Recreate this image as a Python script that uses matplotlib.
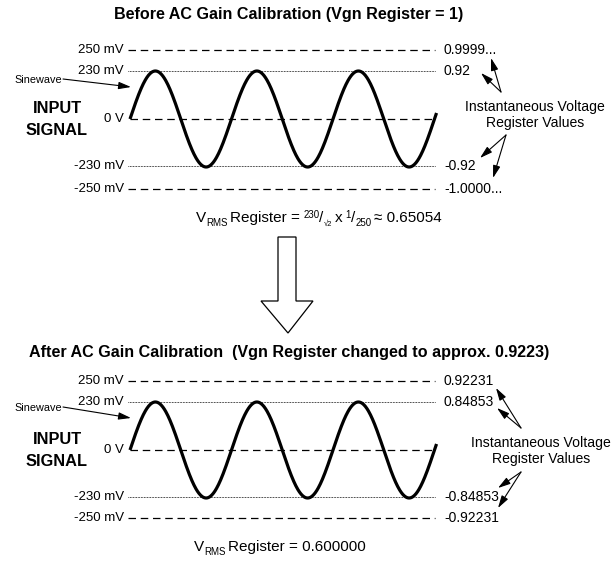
import numpy as np
import matplotlib.pyplot as plt
from matplotlib.patches import Polygon

plt.rcParams['font.family'] = ['Liberation Sans', 'DejaVu Sans']

# chart content
level_labels = ["250 mV", "230 mV", "0 V", "-230 mV", "-250 mV"]
level_styles = ["dash", "dot", "dash", "dot", "dash"]
before_values = ["0.9999...", "0.92", "", "-0.92", "-1.0000..."]
after_values = ["0.92231", "0.84853", "", "-0.84853", "-0.92231"]
sine_amplitude_mv = 230
sine_cycles = 3.02

titles = ["Before AC Gain Calibration (Vgn Register = 1)",
          "After AC Gain Calibration  (Vgn Register changed to approx. 0.9223)"]
# formula pieces: (text, role)  role: main / sub / sup
formula_before = [("V", "main"), ("RMS", "sub"), (" Register = ", "main"),
                  ("230", "sup"), ("/", "main"), ("\u221a2", "sub2"), (" x ", "main"),
                  ("1", "sup"), ("/", "main"), ("250", "sub"), (" \u2248 0.65054", "main")]
formula_after = [("V", "main"), ("RMS", "sub"), (" Register = 0.600000", "main")]

# layout (pixel coordinates of each panel)
panels = [
    dict(title_y=15, level_y=[50, 71, 119, 166, 189], values=before_values,
         sine_lbl_y=80, sine_tip=(131, 87), formula_xy=(319, 222),
         note_xy=(535, 115), up_from=(501, 92), up_tips=[(491, 58), (481, 73)],
         dn_from=(506, 135), dn_tips=[(480, 158), (493, 178)],
         formula=formula_before),
    dict(title_y=353, level_y=[381, 402, 450, 497, 518], values=after_values,
         sine_lbl_y=408, sine_tip=(131, 418), formula_xy=(280, 551),
         note_xy=(541, 451), up_from=(521, 428), up_tips=[(496, 388), (497, 408)],
         dn_from=(521, 472), dn_tips=[(498, 488), (498, 508)],
         formula=formula_after),
]

role_style = {"main": (11.0, 0), "sub": (7.0, 4), "sub2": (5.5, 4), "sup": (7.0, -4)}

fig = plt.figure(figsize=(6.16, 5.68), dpi=100)
ax = fig.add_axes([0, 0, 1, 1])
ax.set_xlim(0, 616)
ax.set_ylim(568, 0)
ax.axis('off')
renderer = fig.canvas.get_renderer()


def rich_text(xc, y, pieces):
    arts, widths = [], []
    for s, role in pieces:
        size, dy = role_style[role]
        t = ax.text(0, y + dy, s.strip(), fontsize=size, va='baseline', ha='left')
        w = t.get_window_extent(renderer).width
        sp = 3 if s != s.lstrip() else 0
        ep = 3 if s != s.rstrip() else 0
        arts.append((t, sp))
        widths.append(sp + w + ep)
    x = xc - sum(widths) / 2
    for (t, sp), w in zip(arts, widths):
        t.set_x(x + sp)
        x += w


arrow_kw = dict(arrowstyle='-|>,head_length=0.75,head_width=0.22',
                color='black', lw=0.8, shrinkA=0, shrinkB=0)

x_left, x_right, x_sine = 128, 435, 130
period = 101.5

for p, title in zip(panels, titles):
    ax.text(289, p['title_y'], title, ha='center', va='center',
            fontsize=11.6, fontweight='bold')
    ys = p['level_y']
    for lbl, style, y, val in zip(level_labels, level_styles, ys, p['values']):
        ax.text(x_left - 4, y, lbl, ha='right', va='center', fontsize=9.5)
        x0 = x_sine if lbl == "0 V" else x_left
        if style == "dash":
            ax.plot([x0, x_right], [y, y], color='black', lw=0.9,
                    dashes=(6.0, 3.8))
        else:
            ax.plot([x0, x_right], [y, y], color='black', lw=0.7,
                    dashes=(0.7, 0.9))
        if val:
            ax.text(x_right + 9, y, val, ha='left', va='center', fontsize=10)

    # sinewave
    y_zero, y_peak = ys[2], ys[1]
    scale = (y_zero - y_peak) / sine_amplitude_mv
    x = np.linspace(x_sine, x_sine + sine_cycles * period, 600)
    v = sine_amplitude_mv * np.sin(2 * np.pi * (x - x_sine) / period)
    ax.plot(x, y_zero - v * scale, color='black', lw=2.3, solid_capstyle='butt')

    ax.text(14, p['sine_lbl_y'], "Sinewave", ha='left', va='center', fontsize=7.8)
    ax.annotate("", xy=p['sine_tip'], xytext=(63, p['sine_lbl_y'] - 1),
                arrowprops=arrow_kw)
    ax.text(57, (ys[1] + ys[3]) / 2 - 10, "INPUT", ha='center', va='center',
            fontsize=11.8, fontweight='bold')
    ax.text(57, (ys[1] + ys[3]) / 2 + 12, "SIGNAL", ha='center', va='center',
            fontsize=11.8, fontweight='bold')

    nx, ny = p['note_xy']
    ax.text(nx, ny - 8, "Instantaneous Voltage", ha='center', va='center', fontsize=10.1)
    ax.text(nx, ny + 8, "Register Values", ha='center', va='center', fontsize=10.1)
    for src, tips in ((p['up_from'], p['up_tips']), (p['dn_from'], p['dn_tips'])):
        for tip in tips:
            ax.annotate("", xy=tip, xytext=src, arrowprops=arrow_kw)

    rich_text(p['formula_xy'][0], p['formula_xy'][1], p['formula'])

# block arrow between the panels
arrow = Polygon([(278, 237), (296, 237), (296, 301), (313, 301), (288, 333),
                 (261, 301), (278, 301)], closed=True, facecolor='white',
                edgecolor='black', lw=0.9)
ax.add_patch(arrow)

fig.savefig("out.png", dpi=100)
